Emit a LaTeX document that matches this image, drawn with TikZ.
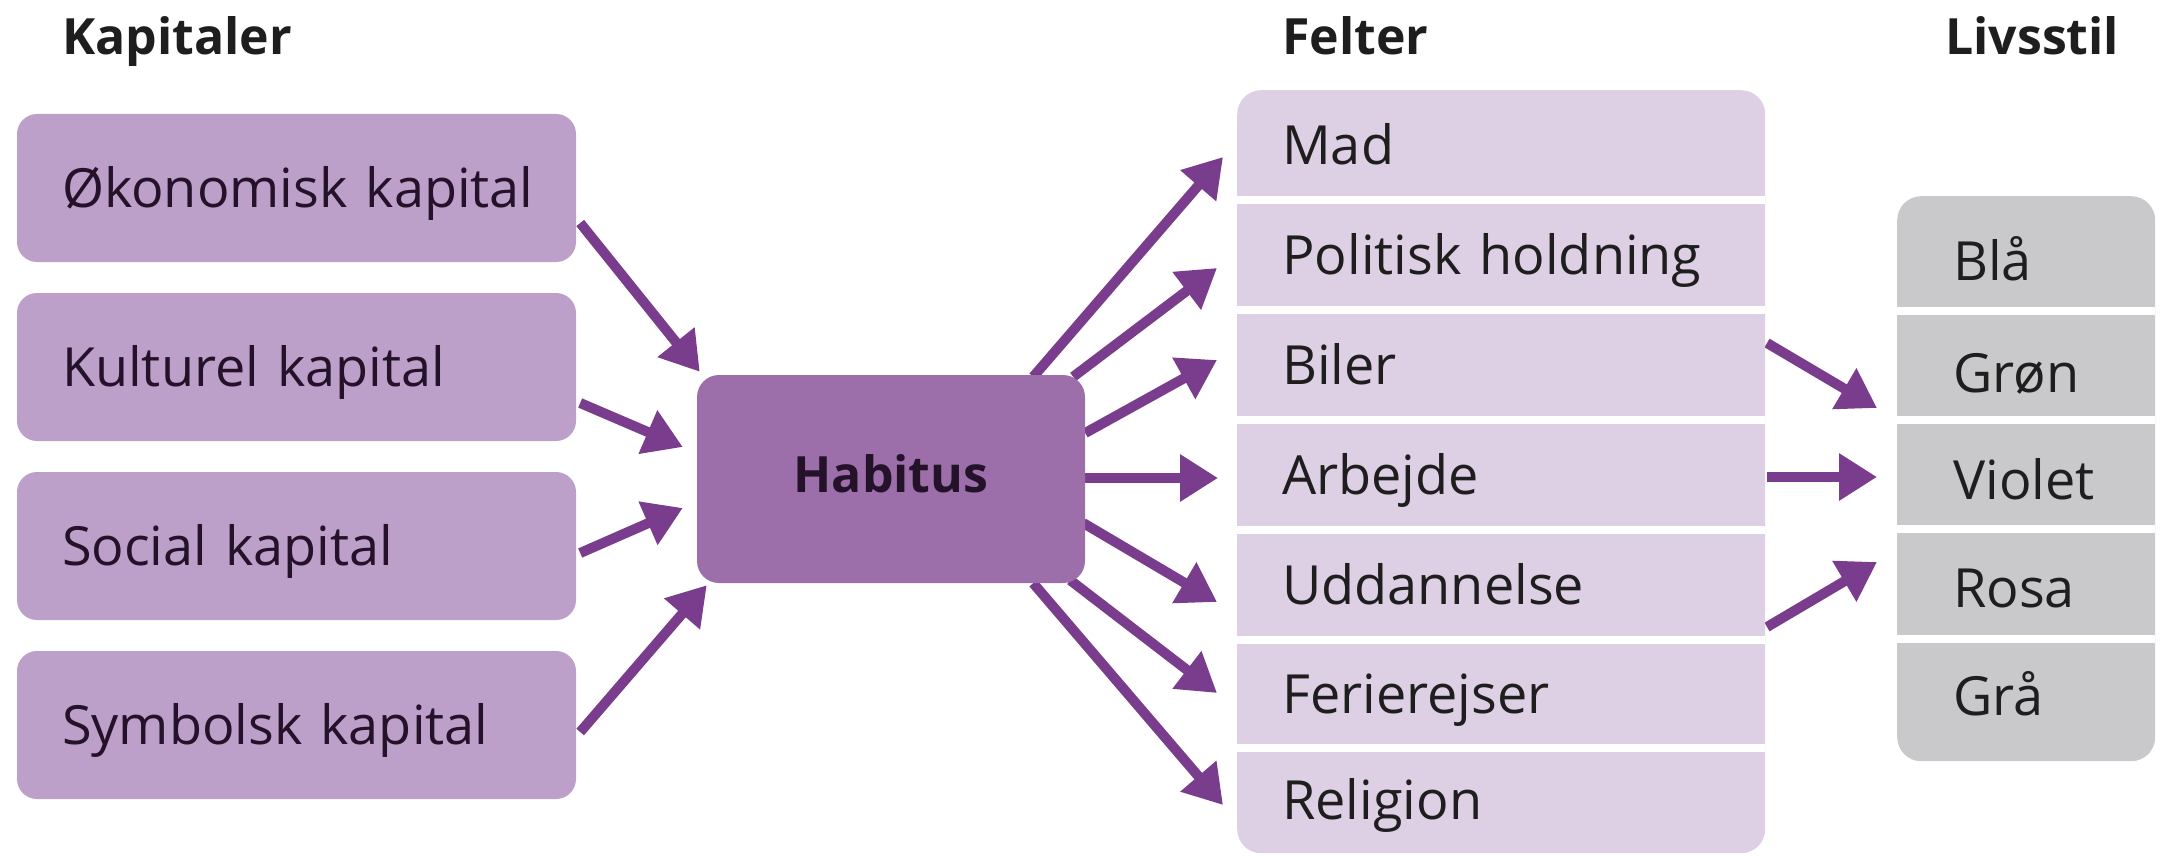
\documentclass[tikz,border=0pt]{standalone}
\usepackage{fontspec}
\setmainfont{Open Sans}
\usetikzlibrary{arrows.meta}
\definecolor{capfill}{HTML}{BDA0CA}
\definecolor{habfill}{HTML}{9D6FAA}
\definecolor{felfill}{HTML}{DDD0E4}
\definecolor{livfill}{HTML}{C9C9CB}
\definecolor{arrcol}{HTML}{7A3C8C}
\definecolor{captext}{HTML}{24122A}
\definecolor{rowtext}{HTML}{1E1E1E}
\pgfdeclarelayer{bg}
\pgfsetlayers{bg,main}
\begin{document}
\begin{tikzpicture}[x=1pt,y=-1pt,
  title/.style={anchor=base west, inner sep=0pt, font=\fontsize{50}{56}\selectfont\bfseries, text=rowtext},
  capbox/.style={fill=capfill, rounded corners=20pt, minimum width=559pt, minimum height=148pt,
    inner xsep=45pt, inner ysep=0pt, text width=469pt, align=left, text height=39pt, text depth=0pt,
    font=\fontsize{54}{60}\selectfont, text=captext},
  habbox/.style={fill=habfill, rounded corners=22pt, minimum width=388pt, minimum height=208pt,
    inner sep=0pt, text height=39pt, text depth=13pt, font=\fontsize{50}{56}\selectfont\bfseries, text=captext},
  bgbox/.style={anchor=north west, rounded corners=24pt, inner sep=0pt},
  felrow/.style={anchor=west, minimum height=100pt, inner xsep=45pt, inner ysep=0pt, text width=438pt,
    align=left, text height=39pt, text depth=0pt, font=\fontsize{54}{60}\selectfont, text=rowtext},
  livrow/.style={anchor=west, minimum height=100pt, inner xsep=56pt, inner ysep=0pt, text width=160pt,
    align=left, text height=39pt, text depth=0pt, font=\fontsize{54}{60}\selectfont, text=rowtext},
  sepline/.style={white, line width=8pt},
  arr/.style={draw=arrcol, line width=10pt, -{Triangle[length=38pt,width=45pt]}}
]
\useasboundingbox (0,0) rectangle (2161,856);

% titles
\node[title] (tkap) at (62,55) {Kapitaler};
\node[title] (tfel) at (1282,55) {Felter};
\node[title] (tliv) at (1945,55) {Livsstil};

% capitals
\node[capbox] (oek) at (296.5,188) {\mbox{Økonomisk kapital}};
\node[capbox] (kul) at (296.5,367) {\mbox{Kulturel kapital}};
\node[capbox] (soc) at (296.5,546) {\mbox{Social kapital}};
\node[capbox] (sym) at (296.5,725) {\mbox{Symbolsk kapital}};

% habitus
\node[habbox] (hab) at (891,479) {Habitus};

% felter background
\node[bgbox, fill=felfill, minimum width=528pt, minimum height=763pt] (felbox) at (1237,90) {};
\foreach \yy in {200,310,420,530,640,748}
  \draw[sepline] (1237,\yy) -- (1765,\yy);

\node[felrow] (mad) at (1237,145) {\mbox{Mad}};
\node[felrow] (pol) at (1237,255) {\mbox{Politisk holdning}};
\node[felrow] (bil) at (1237,365) {\mbox{Biler}};
\node[felrow] (arb) at (1237,475) {\mbox{Arbejde}};
\node[felrow] (udd) at (1237,585) {\mbox{Uddannelse}};
\node[felrow] (fer) at (1237,694) {\mbox{Ferierejser}};
\node[felrow] (rel) at (1237,800) {\mbox{Religion}};

% livsstil background
\node[bgbox, fill=livfill, minimum width=258pt, minimum height=565pt] (livbox) at (1897,196) {};
\foreach \yy in {311,420,529,639}
  \draw[sepline] (1897,\yy) -- (2155,\yy);

\node[livrow] (bla) at (1897,261) {\mbox{Blå}};
\node[livrow] (gron) at (1897,373) {\mbox{Grøn}};
\node[livrow] (vio) at (1897,480) {\mbox{Violet}};
\node[livrow] (ros) at (1897,588) {\mbox{Rosa}};
\node[livrow] (gra) at (1897,696) {\mbox{Grå}};

\begin{pgfonlayer}{bg}
% capitals -> habitus
\draw[arr] ([shift={(4,35)}]oek.east) -- ([shift={(3,-3)}]hab.north west);
\draw[arr] ([shift={(4,36)}]kul.east) -- ([shift={(-14,-32)}]hab.west);
\draw[arr] ([shift={(4,7)}]soc.east) -- ([shift={(-14,29)}]hab.west);
\draw[arr] ([shift={(4,7)}]sym.east) -- ([shift={(10,2)}]hab.south west);
% habitus -> felter
\draw[arr] ([shift={(-52,2)}]hab.north east) -- ([shift={(-14,12)}]mad.west);
\draw[arr] ([shift={(-12,2)}]hab.north east) -- ([shift={(-20,13)}]pol.west);
\draw[arr] ([shift={(0,-46)}]hab.east) -- ([shift={(-20,-5)}]bil.west);
\draw[arr] ([shift={(0,-1)}]hab.east) -- ([shift={(-19,3)}]arb.west);
\draw[arr] ([shift={(-2,44)}]hab.east) -- ([shift={(-20,17)}]udd.west);
\draw[arr] ([shift={(-15,-3)}]hab.south east) -- ([shift={(-20,-1)}]fer.west);
\draw[arr] ([shift={(-52,0)}]hab.south east) -- ([shift={(-14,5)}]rel.west);
% felter -> livsstil
\draw[arr] ([shift={(530,-22)}]bil.west) -- ([shift={(-20,35)}]gron.west);
\draw[arr] ([shift={(530,2)}]arb.west) -- ([shift={(-20,-3)}]vio.west);
\draw[arr] ([shift={(530,42)}]udd.west) -- ([shift={(-20,-26)}]ros.west);
\end{pgfonlayer}
\end{tikzpicture}
\end{document}
